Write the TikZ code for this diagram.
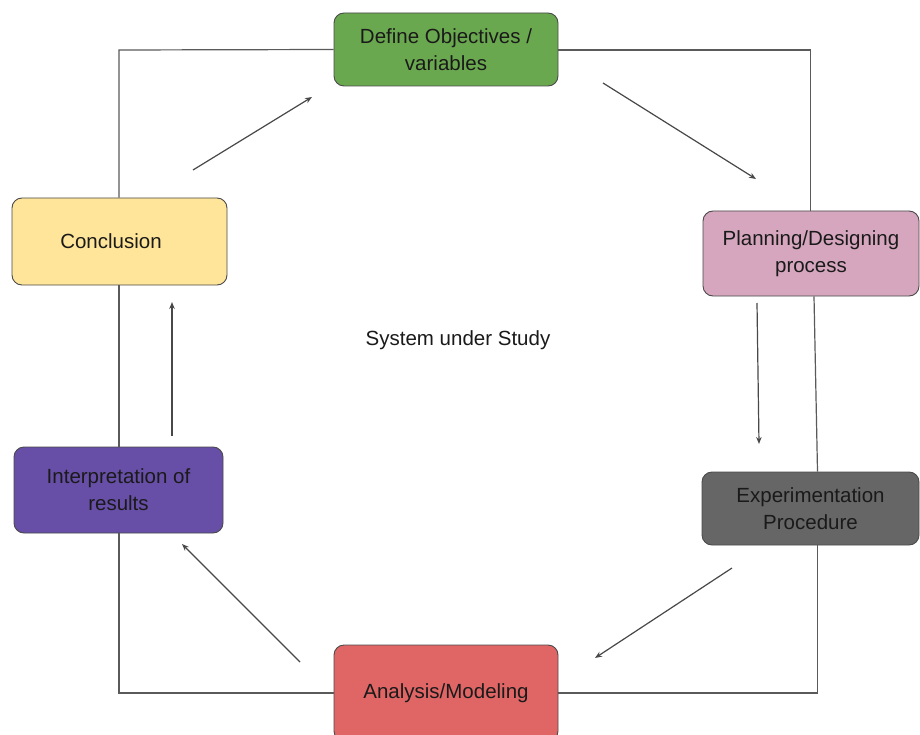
\documentclass[tikz,border=0pt]{standalone}
\usepackage{fontspec}
\setmainfont{Liberation Sans}
\usetikzlibrary{arrows.meta}
\definecolor{cgreen}{HTML}{6AA84F}
\definecolor{cpink}{HTML}{D5A6BD}
\definecolor{cgray}{HTML}{666666}
\definecolor{cyellow}{HTML}{FFE599}
\definecolor{cpurple}{HTML}{674EA7}
\definecolor{cred}{HTML}{E06666}
\definecolor{cborder}{HTML}{4A4A4A}
\definecolor{cline}{HTML}{5A5A5A}
\definecolor{ctext}{HTML}{1A1A1A}
\begin{document}
\begin{tikzpicture}[x=1pt,y=-1pt,
  stepbox/.style={draw=cborder, line width=0.9pt, rounded corners=10pt,
    align=center, text=ctext, inner sep=0pt,
    font=\fontsize{20.5}{27}\selectfont},
  frame/.style={draw=cline, line width=1.2pt},
  flow/.style={draw=cline!80!black, line width=1.2pt,
    -{Stealth[length=7pt,width=5.5pt]}}]
\useasboundingbox (0,0) rectangle (920,735);
\fill[white] (0,0) rectangle (920,735);
% boxes
\node[stepbox, fill=cgreen, minimum width=224pt, minimum height=73pt] (define) at (446,49.5) {Define Objectives /\\variables};
\node[stepbox, fill=cpink, minimum width=216pt, minimum height=85pt] (plan) at (811,253.5) {Planning/Designing\\process};
\node[stepbox, fill=cgray, minimum width=217pt, minimum height=73pt] (exp) at (810.5,508.5) {Experimentation\\Procedure};
\node[stepbox, fill=cred, minimum width=224pt, minimum height=96pt] (anal) at (446,693) {Analysis/Modeling};
\node[stepbox, fill=cpurple, minimum width=209pt, minimum height=86pt] (interp) at (118.5,490) {Interpretation of\\results};
\node[stepbox, fill=cyellow, minimum width=215pt, minimum height=87pt, text width=215pt] (concl) at (119.5,241.5) {\hspace*{-17pt}Conclusion};
\node[font=\fontsize{20.5}{27}\selectfont, text=ctext] (sys) at (458,340) {System under Study};
% frame corners
\coordinate (tl) at (119,50);
\coordinate (tr) at (810.7,50);
\coordinate (bl) at (119,693);
\coordinate (br) at (817.5,693);
\begin{scope}[on background layer/.style={}]
\end{scope}
\path[frame] (define.west) -- (tl) -- (concl.north -| tl);
\path[frame] (concl.south -| tl) -- (interp.north -| tl);
\path[frame] (interp.south -| tl) -- (bl) -- (anal.west |- bl);
\path[frame] (anal.east |- br) -- (br) -- (exp.south -| br);
\path[frame] ([xshift=7pt]exp.north) -- ([xshift=3pt]plan.south);
\path[frame] (plan.north -| tr) -- (tr) -- (define.east |- tr);
% arrows
\coordinate (a1s) at (193,170); \coordinate (a1e) at (312,97);
\coordinate (a2s) at (603,83);  \coordinate (a2e) at (756,179);
\coordinate (a3s) at (757,303); \coordinate (a3e) at (759,444);
\coordinate (a4s) at (732,568); \coordinate (a4e) at (595,658);
\coordinate (a5s) at (300,662); \coordinate (a5e) at (182,544);
\coordinate (a6s) at (172,436); \coordinate (a6e) at (172,302);
\draw[flow] (a1s) -- (a1e);
\draw[flow] (a2s) -- (a2e);
\draw[flow] (a3s) -- (a3e);
\draw[flow] (a4s) -- (a4e);
\draw[flow] (a5s) -- (a5e);
\draw[flow] (a6s) -- (a6e);
\end{tikzpicture}
\end{document}
